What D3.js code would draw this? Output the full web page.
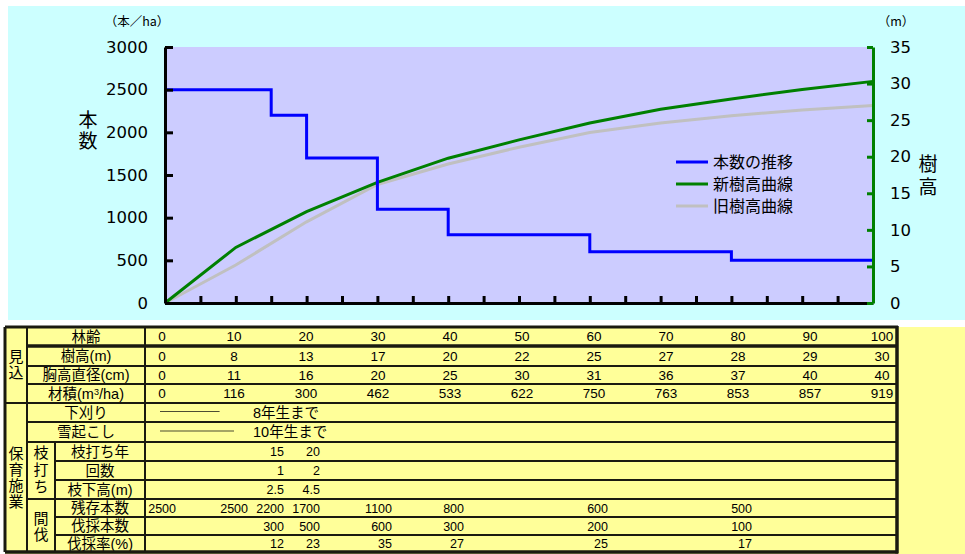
<!DOCTYPE html>
<html>
<head>
<meta charset="utf-8">
<script src="https://cdn.jsdelivr.net/npm/d3@7"></script>
<style>
  body { margin: 0; background: #fff; }
  svg { display: block; }
</style>
</head>
<body>
<svg id="chart" width="965" height="554"></svg>
<script>
// ---- Data -------------------------------------------------------------
// Stand age (years) used by the height curves and the table columns
const ages = [0, 10, 20, 30, 40, 50, 60, 70, 80, 90, 100];
// Tree-height curves (m)
const newHeight = [0, 7.6, 12.5, 16.5, 19.8, 22.3, 24.6, 26.5, 27.9, 29.2, 30.3];
const oldHeight = [0, 5.2, 11.1, 16.2, 19.0, 21.3, 23.3, 24.6, 25.6, 26.4, 27.0];
// Diameter at breast height (cm) and stand volume (m3/ha)
const dbh = [0, 11, 16, 20, 25, 30, 31, 36, 37, 40, 40];
const volume = [0, 116, 300, 462, 533, 622, 750, 763, 853, 857, 919];
// Remaining trees per ha
const stockAges = [0, 10, 15, 20, 30, 40, 60, 80];
const stock = [2500, 2500, 2200, 1700, 1100, 800, 600, 500];
// Thinning: trees removed and thinning rate (%)
const cutAges = [15, 20, 30, 40, 60, 80];
const cutTrees = [300, 500, 600, 300, 200, 100];
const cutRate = [12, 23, 35, 27, 25, 17];
// Pruning: year, round, clear-bole height (m)
const pruneAges = [15, 20];
const pruneCount = [1, 2];
const pruneHeight = [2.5, 4.5];
// Weeding and snow-righting periods (years)
const weedingUntil = 8;
const snowUntil = 10;
// Axis ticks
const leftTicks = [0, 500, 1000, 1500, 2000, 2500, 3000];
const rightTicks = [0, 5, 10, 15, 20, 25, 30, 35];
const ageTicks = [0, 5, 10, 15, 20, 25, 30, 35, 40, 45, 50, 55, 60, 65, 70, 75, 80, 85, 90, 95, 100];
// Series
const seriesNames = ["本数の推移", "新樹高曲線", "旧樹高曲線"];
const seriesColors = ["#0000ff", "#008000", "#c0c0c0"];

// ---- Setup ------------------------------------------------------------
const svg = d3.select("#chart");
const NUM = "'DejaVu Sans', 'Liberation Sans', sans-serif";
const JP = "'Noto Sans CJK JP', 'Noto Sans', sans-serif";
const TJP = "'Liberation Sans', 'Noto Sans CJK JP', sans-serif";
const TNUM = "'Liberation Sans', Arial, sans-serif";

const x = d3.scaleLinear().domain([0, 100]).range([165, 873]);
const yL = d3.scaleLinear().domain([0, 3000]).range([303, 47]);
const yR = d3.scaleLinear().domain([0, 35]).range([303, 47]);

// Backgrounds
svg.append("rect").attr("x", 8).attr("y", 6).attr("width", 957).attr("height", 314).attr("fill", "#ccffff");
svg.append("rect").attr("x", x(0)).attr("y", yL(3000))
  .attr("width", x(100) - x(0)).attr("height", yL(0) - yL(3000)).attr("fill", "#ccccff");

// ---- Lines ------------------------------------------------------------
const heightLine = d3.line().x(d => x(d[0])).y(d => yR(d[1]));
svg.append("path").datum(ages.map((a, i) => [a, oldHeight[i]]))
  .attr("d", heightLine).attr("fill", "none").attr("stroke", seriesColors[2]).attr("stroke-width", 3);
svg.append("path").datum(ages.map((a, i) => [a, newHeight[i]]))
  .attr("d", heightLine).attr("fill", "none").attr("stroke", seriesColors[1]).attr("stroke-width", 3);

const stockPts = stockAges.map((a, i) => [a, stock[i]]);
stockPts.push([100, stock[stock.length - 1]]);
svg.append("path").datum(stockPts)
  .attr("d", d3.line().x(d => x(d[0])).y(d => yL(d[1])).curve(d3.curveStepAfter))
  .attr("fill", "none").attr("stroke", seriesColors[0]).attr("stroke-width", 3);

// ---- Axes -------------------------------------------------------------
const gB = svg.append("g").attr("transform", `translate(0,${yL(0)})`)
  .call(d3.axisBottom(x).tickValues(ageTicks).tickSizeInner(-7).tickSizeOuter(0).tickFormat(() => ""));
gB.select(".domain").attr("stroke", "#000").attr("stroke-width", 3);
gB.selectAll(".tick line").attr("stroke", "#000").attr("stroke-width", 3);

const gL = svg.append("g").attr("transform", `translate(${x(0)},0)`)
  .call(d3.axisLeft(yL).tickValues(leftTicks).tickFormat(d3.format("d"))
    .tickSizeInner(-8).tickSizeOuter(0).tickPadding(17));
gL.select(".domain").attr("stroke", "#000").attr("stroke-width", 3);
gL.selectAll(".tick line").attr("stroke", "#000").attr("stroke-width", 3);
gL.selectAll(".tick text").attr("font-family", NUM).attr("font-size", 16.5).attr("fill", "#000");

const gR = svg.append("g").attr("transform", `translate(${x(100)},0)`)
  .call(d3.axisRight(yR).tickValues(rightTicks).tickFormat(d3.format("d"))
    .tickSizeInner(-6).tickSizeOuter(0).tickPadding(17));
gR.select(".domain").attr("stroke", "#008000").attr("stroke-width", 3);
gR.selectAll(".tick line").attr("stroke", "#008000").attr("stroke-width", 3);
gR.selectAll(".tick text").attr("font-family", NUM).attr("font-size", 16.5).attr("fill", "#000");

// Vertical (top-to-bottom) text, centred on (xc, yc)
function vertical(parent, str, xc, yc, size, spacing) {
  return parent.append("text")
    .attr("x", xc).attr("y", yc)
    .attr("writing-mode", "vertical-rl")
    .attr("text-anchor", "middle")
    .attr("letter-spacing", spacing)
    .attr("font-family", JP).attr("font-size", size)
    .attr("fill", "#000")
    .text(str);
}

// Axis titles
svg.append("text").attr("x", 137).attr("y", 22).attr("text-anchor", "middle").attr("dy", "0.35em")
  .attr("font-family", JP).attr("font-size", 12.5).text("（本／ha）");
svg.append("text").attr("x", 896).attr("y", 22).attr("text-anchor", "middle").attr("dy", "0.35em")
  .attr("font-family", JP).attr("font-size", 12.5).text("（m）");
vertical(svg, "本数", 88, 131, 19, 2);
vertical(svg, "樹高", 928, 177, 19, 4);

// Legend
const lg = svg.append("g").selectAll("g").data(seriesNames).join("g")
  .attr("transform", (d, i) => `translate(676,${162 + i * 22})`);
lg.append("line").attr("x1", 0).attr("x2", 32).attr("stroke", (d, i) => seriesColors[i]).attr("stroke-width", 3);
lg.append("text").attr("x", 37).attr("dy", "0.36em").attr("font-family", JP).attr("font-size", 16)
  .attr("fill", "#000").text(d => d);

// ---- Table ------------------------------------------------------------
const T = svg.append("g");
const rowY = [327, 346, 366, 384, 403, 422, 442, 461, 480, 499, 517, 535, 552];
const cy = i => (rowY[i] + rowY[i + 1]) / 2;
const tc = d3.scaleLinear().domain([0, 100]).range([162, 882]);   // centred columns
const tr = d3.scaleLinear().domain([0, 100]).range([176, 896]);   // right-aligned columns

T.append("rect").attr("x", 5).attr("y", 327).attr("width", 960).attr("height", 227).attr("fill", "#ffff99");

// Row labels
const fullLabels = [[0, "林齢"], [1, "樹高(m)"], [2, "胸高直径(cm)"], [4, "下刈り"], [5, "雪起こし"]];
fullLabels.forEach(([r, t]) =>
  T.append("text").attr("x", 86).attr("y", cy(r)).attr("dy", "0.36em").attr("text-anchor", "middle")
    .attr("font-family", TJP).attr("font-size", 14.5).text(t));
const vt = T.append("text").attr("x", 86).attr("y", cy(3)).attr("dy", "0.36em").attr("text-anchor", "middle")
  .attr("font-family", TJP).attr("font-size", 14.5);
vt.append("tspan").text("材積(m");
vt.append("tspan").attr("font-size", 9).attr("dy", "-0.45em").text("3");
vt.append("tspan").attr("dy", "0.28em").text("/ha)");
const subLabels = [[6, "枝打ち年"], [7, "回数"], [8, "枝下高(m)"], [9, "残存本数"], [10, "伐採本数"], [11, "伐採率(%)"]];
subLabels.forEach(([r, t]) =>
  T.append("text").attr("x", 100).attr("y", cy(r)).attr("dy", "0.36em").attr("text-anchor", "middle")
    .attr("font-family", TJP).attr("font-size", 14.5).text(t));

// Vertical group labels
vertical(T, "見込", 16, (rowY[0] + rowY[4]) / 2, 15, 1);
vertical(T, "保育施業", 16, (rowY[4] + rowY[12]) / 2, 15, 1);
vertical(T, "枝打ち", 41, (rowY[6] + rowY[9]) / 2, 15, 2);
vertical(T, "間伐", 41, 527, 15, 1);

// Values: centred rows
const centredRows = [
  [0, ages, v => v],
  [1, newHeight, v => Math.round(v)],
  [2, dbh, v => v],
  [3, volume, v => v]
];
centredRows.forEach(([r, vals, f]) =>
  vals.forEach((v, i) =>
    T.append("text").attr("x", tc(ages[i])).attr("y", cy(r)).attr("dy", "0.36em").attr("text-anchor", "middle")
      .attr("font-family", TNUM).attr("font-size", 13.5).text(f(v))));

// Values: right-aligned rows
const rightRows = [
  [6, pruneAges, pruneAges, v => v],
  [7, pruneAges, pruneCount, v => v],
  [8, pruneAges, pruneHeight, v => v.toFixed(1)],
  [9, stockAges, stock, v => v],
  [10, cutAges, cutTrees, v => v],
  [11, cutAges, cutRate, v => v]
];
rightRows.forEach(([r, at, vals, f]) =>
  vals.forEach((v, i) =>
    T.append("text").attr("x", tr(at[i])).attr("y", cy(r)).attr("dy", "0.36em").attr("text-anchor", "end")
      .attr("font-family", TNUM).attr("font-size", 12.5).text(f(v))));

// Weeding / snow-righting periods
[[4, weedingUntil, "8年生まで"], [5, snowUntil, "10年生まで"]].forEach(([r, until, t]) => {
  T.append("line").attr("x1", tc(0) - 2).attr("x2", tc(until)).attr("y1", cy(r) - 1).attr("y2", cy(r) - 1)
    .attr("stroke", "#4d4d33").attr("stroke-width", 1.2);
  T.append("text").attr("x", 253).attr("y", cy(r)).attr("dy", "0.36em")
    .attr("font-family", TJP).attr("font-size", 14.5).text(t);
});

// Grid lines
const gridColor = "#1a1a10";
const hLines = [
  [327, 5, 3], [346, 27, 3.5], [366, 27, 2], [384, 27, 2], [403, 5, 2], [422, 27, 2],
  [442, 27, 2], [461, 55, 2], [480, 55, 2], [499, 27, 2], [517, 55, 2], [535, 55, 2], [552, 5, 3.5]
];
hLines.forEach(([y, x1, w]) =>
  T.append("line").attr("x1", x1).attr("x2", 898).attr("y1", y).attr("y2", y)
    .attr("stroke", gridColor).attr("stroke-width", w));
const vLines = [[5, 327, 552, 3], [27, 327, 552, 2], [55, 442, 552, 2], [145, 327, 552, 2], [897, 326, 553.5, 3.5]];
vLines.forEach(([xx, y1, y2, w]) =>
  T.append("line").attr("x1", xx).attr("x2", xx).attr("y1", y1).attr("y2", y2)
    .attr("stroke", gridColor).attr("stroke-width", w));
</script>
</body>
</html>
